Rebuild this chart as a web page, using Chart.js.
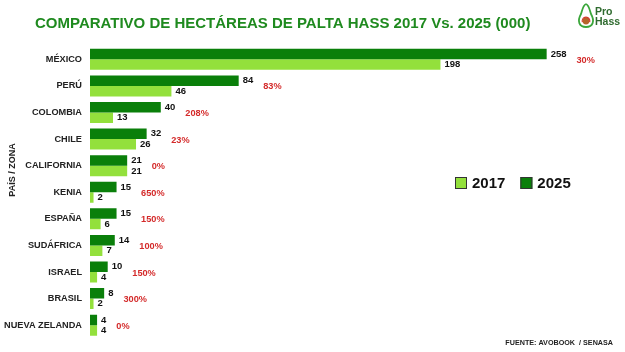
<!DOCTYPE html>
<html>
<head>
<meta charset="utf-8">
<script src="https://cdn.jsdelivr.net/npm/chart.js@4.4.1/dist/chart.umd.min.js"></script>
<style>
  html, body { margin: 0; padding: 0; background: #fff; }
  #wrap { width: 625px; height: 352px; }
</style>
</head>
<body>
<div id="wrap"><canvas id="chart" width="625" height="352"></canvas></div>
<script>
// data (thousands of hectares)
const paises = ['MÉXICO', 'PERÚ', 'COLOMBIA', 'CHILE', 'CALIFORNIA', 'KENIA', 'ESPAÑA', 'SUDÁFRICA', 'ISRAEL', 'BRASIL', 'NUEVA ZELANDA'];
const ha2025 = [258, 84, 40, 32, 21, 15, 15, 14, 10, 8, 4];
const ha2017 = [198, 46, 13, 26, 21, 2, 6, 7, 4, 2, 4];
const crecimiento = ['30%', '83%', '208%', '23%', '0%', '650%', '150%', '100%', '150%', '300%', '0%'];

const VERDE_OSCURO = '#0a7f0a';
const VERDE_CLARO = '#93e03c';
const FONT = '"Liberation Sans", Arial, sans-serif';

// title, axis title, logo, source
const decoPlugin = {
    id: 'deco',
    afterDraw(chart) {
        const ctx = chart.ctx;
        ctx.save();

        // title
        ctx.font = 'bold 15px ' + FONT;
        ctx.fillStyle = '#1f8a1f';
        ctx.textBaseline = 'middle';
        ctx.textAlign = 'left';
        ctx.fillText('COMPARATIVO DE HECTÁREAS DE PALTA HASS 2017 Vs. 2025 (000)', 35, 24);

        // y axis title
        ctx.save();
        ctx.translate(13, 170);
        ctx.rotate(-Math.PI / 2);
        ctx.font = 'bold 9px ' + FONT;
        ctx.fillStyle = '#222';
        ctx.textAlign = 'center';
        ctx.textBaseline = 'middle';
        ctx.fillText('PAÍS / ZONA', 0, 0);
        ctx.restore();

        // source
        ctx.font = 'bold 7.2px ' + FONT;
        ctx.fillStyle = '#222';
        ctx.textAlign = 'right';
        ctx.textBaseline = 'middle';
        ctx.fillText('FUENTE: AVOBOOK  / SENASA', 613, 343);

        // logo
        ctx.strokeStyle = '#3aa63a';
        ctx.lineWidth = 1.8;
        ctx.beginPath();
        ctx.moveTo(586, 4);
        ctx.bezierCurveTo(583, 5, 582, 11, 581, 14);
        ctx.bezierCurveTo(577, 21, 579, 27, 586, 27);
        ctx.bezierCurveTo(593, 27, 595, 21, 591, 14);
        ctx.bezierCurveTo(590, 11, 589, 5, 586, 4);
        ctx.stroke();
        ctx.fillStyle = '#b5652a';
        ctx.beginPath();
        ctx.arc(586, 21, 3.4, 0, Math.PI * 2);
        ctx.fill();
        ctx.strokeStyle = '#d23a2a';
        ctx.lineWidth = 1.2;
        ctx.beginPath();
        ctx.arc(586, 21, 3.8, Math.PI * 0.9, Math.PI * 2.1);
        ctx.stroke();
        ctx.fillStyle = '#2f6b2f';
        ctx.textAlign = 'left';
        ctx.font = 'bold 10.5px ' + FONT;
        ctx.fillText('Pro', 595, 12);
        ctx.fillText('Hass', 595, 22);
        ctx.restore();
    }
};

// bar values, growth %, legend
const labelsPlugin = {
    id: 'labels',
    afterDatasetsDraw(chart) {
        const ctx = chart.ctx;
        ctx.save();
        ctx.textBaseline = 'middle';
        ctx.textAlign = 'left';
        const ends = [];
        chart.data.datasets.forEach((ds, di) => {
            const meta = chart.getDatasetMeta(di);
            meta.data.forEach((bar, i) => {
                ctx.font = 'bold 9.5px ' + FONT;
                ctx.fillStyle = '#111';
                const txt = String(ds.data[i]);
                ctx.fillText(txt, bar.x + 4, bar.y);
                const end = bar.x + 4 + ctx.measureText(txt).width;
                ends[i] = Math.max(ends[i] || 0, end);
            });
        });
        const m0 = chart.getDatasetMeta(0).data;
        const m1 = chart.getDatasetMeta(1).data;
        ctx.font = 'bold 9.2px ' + FONT;
        ctx.fillStyle = '#d42a2a';
        crecimiento.forEach((p, i) => {
            ctx.fillText(p, ends[i] + 10, (m0[i].y + m1[i].y) / 2 + 1);
        });

        // legend: 2017 first, then 2025
        let x = 455;
        const y = 183;
        ctx.font = 'bold 15px ' + FONT;
        chart.data.datasets.slice().reverse().forEach(ds => {
            ctx.fillStyle = ds.backgroundColor;
            ctx.fillRect(x, y - 6, 12, 12);
            ctx.strokeStyle = '#333';
            ctx.lineWidth = 1;
            ctx.strokeRect(x + 0.5, y - 5.5, 11, 11);
            ctx.fillStyle = '#111';
            ctx.fillText(ds.label, x + 17, y + 1);
            x += 17 + ctx.measureText(ds.label).width + 15;
        });
        ctx.restore();
    }
};

new Chart(document.getElementById('chart'), {
    type: 'bar',
    data: {
        labels: paises,
        datasets: [
            { label: '2025', data: ha2025, backgroundColor: VERDE_OSCURO },
            { label: '2017', data: ha2017, backgroundColor: VERDE_CLARO }
        ]
    },
    options: {
        indexAxis: 'y',
        responsive: false,
        animation: false,
        categoryPercentage: 0.79,
        barPercentage: 1.0,
        layout: { padding: { left: 0, top: 46, right: 4, bottom: 8 } },
        plugins: {
            legend: { display: false },
            tooltip: { enabled: false },
            title: { display: false }
        },
        scales: {
            x: { display: false, min: 0, max: 300 },
            y: {
                grid: { display: false, drawTicks: false },
                border: { display: false },
                ticks: {
                    color: '#222',
                    padding: 8,
                    font: { family: FONT, size: 9.2, weight: 'bold' }
                },
                afterFit: s => { s.width = 90; }
            }
        }
    },
    plugins: [decoPlugin, labelsPlugin]
});
</script>
</body>
</html>
